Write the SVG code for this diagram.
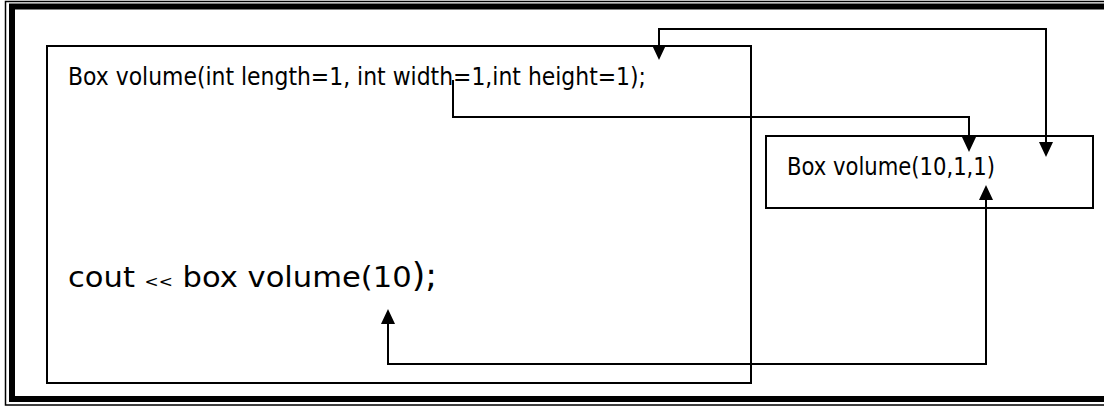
<svg xmlns="http://www.w3.org/2000/svg" width="1104" height="407" viewBox="0 0 1104 407">
<style>
.box{fill:none;stroke:#000;stroke-width:2}
.conn{fill:none;stroke:#000;stroke-width:2}
.t{font-family:"DejaVu Sans","Liberation Sans",sans-serif;fill:#000}
</style>
<defs>
<marker id="arr" viewBox="0 0 15 14" refX="10" refY="7" markerWidth="15" markerHeight="14" markerUnits="userSpaceOnUse" orient="auto-start-reverse">
<path d="M0,0 L15,7 L0,14 Z" fill="#000"/>
</marker>
</defs>
<rect width="1104" height="407" fill="#fff"/>
<g id="frame">
<rect x="5.5" y="1.5" width="1110" height="403.5" fill="none" stroke="#000" stroke-width="1.5"/>
<rect x="12" y="6.5" width="1110" height="392.5" fill="none" stroke="#000" stroke-width="6"/>
</g>
<g id="node-declaration">
<rect class="box" x="47" y="46" width="704" height="337"/>
<text class="t" x="68" y="85" font-size="24" textLength="578" lengthAdjust="spacingAndGlyphs">Box volume(int length=1, int width=1,int height=1);</text>
<text class="t" x="68" y="287" font-size="29" textLength="369" lengthAdjust="spacingAndGlyphs">cout <tspan font-size="16">&lt;&lt;</tspan> box volume(10<tspan font-size="33">);</tspan></text>
</g>
<g id="node-call">
<rect class="box" x="766" y="136" width="327" height="72"/>
<text class="t" x="787" y="175" font-size="24" textLength="208" lengthAdjust="spacingAndGlyphs">Box volume(10,1,1)</text>
</g>
<g id="connectors">
<path class="conn" d="M659,55 V29 H1046 V152" marker-start="url(#arr)" marker-end="url(#arr)"/>
<path class="conn" d="M453,80 V117 H969 V147" marker-end="url(#arr)"/>
<path class="conn" d="M986,190 V364 H388 V314" marker-start="url(#arr)" marker-end="url(#arr)"/>
</g>
</svg>
